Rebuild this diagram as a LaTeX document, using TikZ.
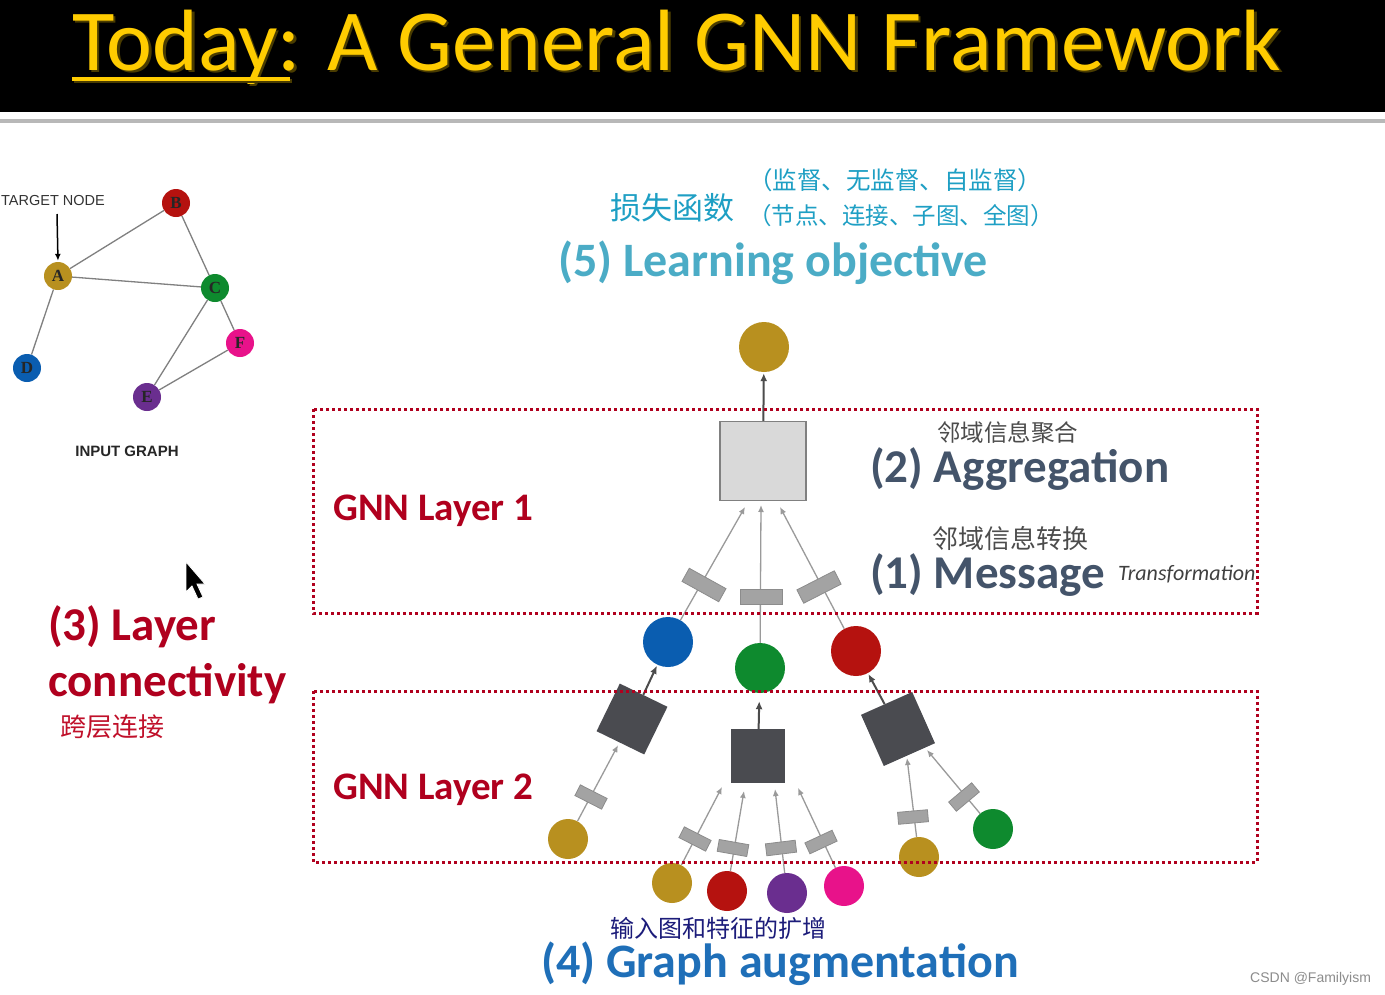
\documentclass[tikz,border=0pt]{standalone}
\usepackage{fontspec}
\setmainfont{Carlito}
\newfontfamily\cjk{Noto Sans CJK SC}
\newfontfamily\arialf{Liberation Sans}
\newfontfamily\serifb{Liberation Serif}
\usetikzlibrary{arrows.meta,calc}
\pgfdeclarelayer{back}
\pgfdeclarelayer{bg}
\pgfsetlayers{back,bg,main}
\definecolor{cHdrGold}{HTML}{FFCC00}
\definecolor{cHdrShadow}{HTML}{4A3C00}
\definecolor{nGold}{HTML}{B8901F}
\definecolor{nRed}{HTML}{B5120F}
\definecolor{nGreen}{HTML}{0E8A2E}
\definecolor{nPink}{HTML}{E8128A}
\definecolor{nBlue}{HTML}{0A5DB0}
\definecolor{nPurple}{HTML}{6A2E8F}
\definecolor{cDarkRed}{HTML}{B0001E}
\definecolor{cSlate}{HTML}{44546A}
\definecolor{cTeal}{HTML}{4BACC6}
\definecolor{cHwTeal}{HTML}{1E9FC4}
\definecolor{cAugBlue}{HTML}{1F6FB8}
\definecolor{cAggDark}{HTML}{4A4B50}
\definecolor{cMsgFill}{HTML}{A3A3A3}
\definecolor{cLine}{HTML}{9A9A9A}
\definecolor{cHwRed}{HTML}{C0102A}
\definecolor{cHwNavy}{HTML}{1C1C7A}
\tikzset{
  gnode/.style={circle, minimum size=28pt, inner sep=0pt, font=\serifb\bfseries\fontsize{17}{17}\selectfont, text=black!85},
  bignode/.style={circle, minimum size=50pt, inner sep=0pt},
  smnode/.style={circle, minimum size=40pt, inner sep=0pt},
  msgbox/.style={rectangle, fill=cMsgFill, draw=black!45, line width=0.8pt, minimum width=42pt, minimum height=15pt, inner sep=0pt},
  msgsmall/.style={msgbox, minimum width=30pt, minimum height=12pt},
  aggbox/.style={rectangle, fill=cAggDark, minimum size=54pt, inner sep=0pt},
  msgline/.style={draw=cLine, line width=1.3pt, -{Latex[length=7pt,width=6pt]}},
  aggline/.style={draw=black!70, line width=2pt, -{Latex[length=8pt,width=7pt]}},
  gedge/.style={draw=black!50, line width=1.3pt},
  layerbox/.style={draw=cDarkRed, line width=3pt, dash pattern=on 3pt off 3pt},
  txt/.style={inner sep=0pt, anchor=base west},
  cjktxt/.style={inner sep=0pt, anchor=west},
}
\begin{document}
\begin{tikzpicture}[x=1pt,y=-1pt]
\useasboundingbox (0,0) rectangle (1385,994);
\begin{pgfonlayer}{back}
\fill[white] (0,0) rectangle (1385,994);
\fill[black] (0,0) rectangle (1385,112);
\fill[black!28] (0,119) rectangle (1385,123);
\end{pgfonlayer}
% header
\node[txt, text=cHdrShadow, font=\fontsize{87}{87}\selectfont] (titleshadow) at (74.5,72.5) {Today: A General GNN Framework};
\node[txt, text=cHdrGold, font=\fontsize{87}{87}\selectfont] (title) at (72,70) {Today: A General GNN Framework};
\fill[cHdrShadow] (74,79) rectangle (292,83);
\fill[cHdrGold] (72,77) rectangle (290,80.5);

% input graph
\node[gnode, fill=nGold] (A) at (58,276) {A};
\node[gnode, fill=nRed] (B) at (176,203) {B};
\node[gnode, fill=nGreen] (C) at (215,288) {C};
\node[gnode, fill=nPink] (F) at (240,343) {F};
\node[gnode, fill=nBlue] (D) at (27,368) {D};
\node[gnode, fill=nPurple] (E) at (147,397) {E};
\begin{pgfonlayer}{bg}
\draw[gedge] (A) -- (B);
\draw[gedge] (A) -- (C);
\draw[gedge] (B) -- (C);
\draw[gedge] (A) -- (D);
\draw[gedge] (C) -- (E);
\draw[gedge] (C) -- (F);
\draw[gedge] (E) -- (F);
\end{pgfonlayer}
\node[txt, font=\arialf\fontsize{14.5}{14.5}\selectfont, text=black!80] (tgt) at (1,205) {TARGET NODE};
\coordinate (tgtarrow) at (57,214);
\draw[black, line width=1.5pt, -{Latex[length=7pt,width=6pt]}, shorten >=1pt] (tgtarrow) -- (A.north);
\node[font=\arialf\bfseries\fontsize{15}{15}\selectfont, text=black!85, inner sep=0pt] (inputgraph) at (127,451) {INPUT GRAPH};

% cursor
\filldraw[fill=black, draw=white, line width=0.8pt] (186,562) -- (186,592) -- (192,586) -- (198,599) -- (203,597) -- (197,584) -- (205,584) -- cycle;

% learning objective
\node[cjktxt, text=cHwTeal, font=\cjk\fontsize{31}{31}\selectfont] (loss) at (610,208) {损失函数};
\node[cjktxt, text=cHwTeal, font=\cjk\fontsize{24.5}{24.5}\selectfont] (sup) at (748,180) {（监督、无监督、自监督）};
\node[cjktxt, text=cHwTeal, font=\cjk\fontsize{23.5}{23.5}\selectfont] (lvl) at (748,216) {（节点、连接、子图、全图）};
\node[txt, text=cTeal, font=\bfseries\fontsize{48}{48}\selectfont] (lobj) at (558,276) {(5) Learning objective};

% top node and aggregator 1
\node[bignode, fill=nGold] (top) at (764,347) {};
\node[rectangle, fill=black!15, draw=black!50, line width=1.5pt, minimum width=86pt, minimum height=79pt, inner sep=0pt] (agg1) at (763,461) {};
\draw[aggline, shorten >=1pt] (agg1) -- (top);

% layer 1 inputs
\node[bignode, fill=nBlue] (b1) at (668,642) {};
\node[bignode, fill=nGreen] (g1) at (760,668) {};
\node[bignode, fill=nRed] (r1) at (856,651) {};
\node[msgbox, rotate=-29] (m1a) at (704,585) {};
\node[msgbox] (m1b) at (761,597) {};
\node[msgbox, rotate=27] (m1c) at (819,587) {};
\coordinate (a1L) at (745,507);
\coordinate (a1M) at (761,505);
\coordinate (a1R) at (780,507);
\begin{pgfonlayer}{bg}
\draw[msgline] (b1) -- (a1L);
\draw[msgline] (g1) -- (a1M);
\draw[msgline] (r1) -- (a1R);
\end{pgfonlayer}

% layer 2 aggregators
\node[aggbox, rotate=-26, minimum size=53pt] (agg2a) at (632,719) {};
\node[aggbox] (agg2b) at (758,756) {};
\node[aggbox, rotate=24, minimum size=56pt] (agg2c) at (898,729) {};
\draw[aggline, shorten >=1pt] (agg2a) -- (b1);
\draw[aggline, shorten >=8pt] (agg2b) -- (g1);
\draw[aggline, shorten >=1pt] (agg2c) -- (r1);

% layer 2 inputs
\node[smnode, fill=nGold] (c2a) at (568,839) {};
\node[msgsmall, rotate=-27] (m2a) at (591,797) {};
\node[smnode, fill=nGold] (c2b1) at (672,883) {};
\node[smnode, fill=nRed] (c2b2) at (727,891) {};
\node[smnode, fill=nPurple] (c2b3) at (787,893) {};
\node[smnode, fill=nPink] (c2b4) at (844,886) {};
\node[msgsmall, rotate=-27] (m2b1) at (695,839) {};
\node[msgsmall, rotate=-10] (m2b2) at (733,848) {};
\node[msgsmall, rotate=7] (m2b3) at (781,848) {};
\node[msgsmall, rotate=25] (m2b4) at (821,842) {};
\node[smnode, fill=nGold] (c2c1) at (919,857) {};
\node[smnode, fill=nGreen] (c2c2) at (993,829) {};
\node[msgsmall, rotate=5] (m2c1) at (913,817) {};
\node[msgsmall, rotate=40] (m2c2) at (964,797) {};
\coordinate (p1) at (722,787);
\coordinate (p2) at (744,791);
\coordinate (p3) at (775,789);
\coordinate (p4) at (798,788);
\coordinate (q1) at (907,758);
\coordinate (q2) at (927,750);
\begin{pgfonlayer}{bg}
\draw[msgline, shorten >=3pt] (c2a) -- (agg2a);
\draw[msgline] (c2b1) -- (p1);
\draw[msgline] (c2b2) -- (p2);
\draw[msgline] (c2b3) -- (p3);
\draw[msgline] (c2b4) -- (p4);
\draw[msgline] (c2c1) -- (q1);
\draw[msgline] (c2c2) -- (q2);
\end{pgfonlayer}

% layer boxes
\draw[layerbox] (313,409) rectangle (1257,613);
\draw[layerbox] (313,691) rectangle (1257,862);
\node[txt, text=cDarkRed, font=\bfseries\fontsize{39}{39}\selectfont] (l1) at (333,520) {GNN Layer 1};
\node[txt, text=cDarkRed, font=\bfseries\fontsize{39}{39}\selectfont] (l2) at (333,799) {GNN Layer 2};

% aggregation and message labels
\node[cjktxt, text=black!70, font=\cjk\fontsize{23.5}{23.5}\selectfont] (aggcn) at (937,433) {邻域信息聚合};
\node[txt, text=cSlate, font=\bfseries\fontsize{47}{47}\selectfont] (aggtxt) at (870,482) {(2) Aggregation};
\node[cjktxt, text=black!70, font=\cjk\fontsize{26}{26}\selectfont] (msgcn) at (932,539) {邻域信息转换};
\node[txt, text=cSlate, font=\bfseries\fontsize{47}{47}\selectfont] (msgtxt) at (870,588) {(1) Message};
\node[txt, text=black!75, font=\itshape\fontsize{22}{22}\selectfont] (transf) at (1118,580) {Transformation};

% layer connectivity
\node[txt, text=cDarkRed, font=\bfseries\fontsize{47}{47}\selectfont] (lc1) at (48,640) {(3) Layer};
\node[txt, text=cDarkRed, font=\bfseries\fontsize{47}{47}\selectfont] (lc2) at (48,696) {connectivity};
\node[cjktxt, text=cHwRed, font=\cjk\fontsize{26}{26}\selectfont] (lccn) at (60,727) {跨层连接};

% graph augmentation
\node[cjktxt, text=cHwNavy, font=\cjk\fontsize{24}{24}\selectfont] (augcn) at (610,928) {输入图和特征的扩增};
\node[txt, text=cAugBlue, font=\bfseries\fontsize{48}{48}\selectfont] (aug) at (541,977) {(4) Graph augmentation};

% watermark
\node[txt, text=black!45, font=\arialf\fontsize{14}{14}\selectfont] (wm) at (1250,982) {CSDN @Familyism};
\end{tikzpicture}
\end{document}
